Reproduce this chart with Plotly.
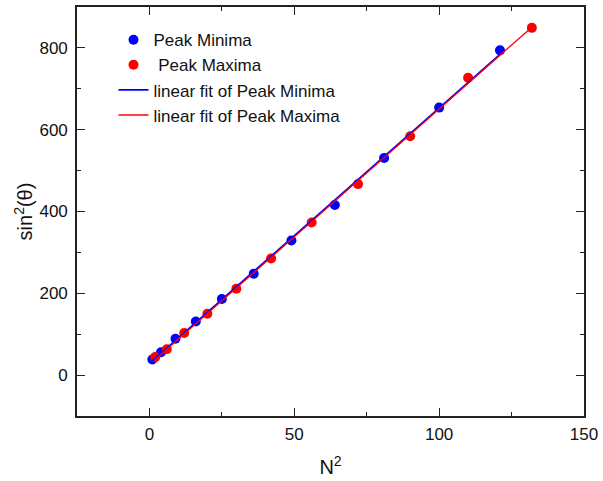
import numpy as np
import plotly.graph_objects as go

# Data
min_x = [1, 4, 9, 16, 25, 36, 49, 64, 81, 100, 121]
min_y = [38, 56, 89, 131, 186, 248, 329, 416, 531, 654, 794]
max_x = [2, 6, 12, 20, 30, 42, 56, 72, 90, 110, 132]
max_y = [44, 63, 103, 150, 211, 285, 373, 467, 584, 727, 849]

x_ticks = [0, 50, 100, 150]
y_ticks = [0, 200, 400, 600, 800]

FONT = "Liberation Sans, Arial, sans-serif"

def fit(xs, ys):
    a, b = np.polyfit(xs, ys, 1)
    xx = np.array([min(xs), max(xs)], dtype=float)
    return xx, a * xx + b

fx1, fy1 = fit(min_x, min_y)
fx2, fy2 = fit(max_x, max_y)

fig = go.Figure()
fig.add_trace(go.Scatter(x=min_x, y=min_y, mode="markers", name="Peak Minima",
                         marker=dict(color="#0000ff", size=10, line=dict(width=0))))
fig.add_trace(go.Scatter(x=max_x, y=max_y, mode="markers", name=" Peak Maxima",
                         marker=dict(color="#ff0000", size=10, line=dict(width=0))))
fig.add_trace(go.Scatter(x=fx1, y=fy1, mode="lines", name="linear fit of Peak Minima",
                         line=dict(color="#0000ff", width=1.8)))
fig.add_trace(go.Scatter(x=fx2, y=fy2, mode="lines", name="linear fit of Peak Maxima",
                         line=dict(color="#ff0000", width=1.3)))

axis_common = dict(
    showline=True, linecolor="#222222", linewidth=1.6, mirror="ticks",
    ticks="inside", ticklen=8, tickwidth=1.2, tickcolor="#222222",
    showgrid=False, zeroline=False,
    tickfont=dict(family=FONT, size=17, color="#111111"),
)

fig.update_layout(
    width=603, height=481,
    margin=dict(l=77, r=15, t=5, b=65),
    paper_bgcolor="white", plot_bgcolor="white",
    font=dict(family=FONT, color="#111111"),
    showlegend=True,
    legend=dict(x=0.072, y=0.963, xanchor="left", yanchor="top",
                bgcolor="rgba(0,0,0,0)", borderwidth=0,
                font=dict(family=FONT, size=17, color="#111111"),
                tracegroupgap=0),
)
fig.update_xaxes(range=[-25, 150], tickvals=x_ticks,
                 minor=dict(ticks="inside", ticklen=4, dtick=25, tick0=0, tickcolor="#222222"),
                 title=dict(text="N<sup>2</sup>", font=dict(family=FONT, size=20), standoff=17),
                 ticklabelstandoff=2, **axis_common)
fig.update_yaxes(range=[-100, 900], tickvals=y_ticks,
                 minor=dict(ticks="inside", ticklen=4, dtick=100, tick0=0, tickcolor="#222222"),
                 title=dict(text="sin<sup>2</sup>(θ)", font=dict(family=FONT, size=20), standoff=1),
                 ticklabelstandoff=4, **axis_common)

fig.write_html("out.html")
